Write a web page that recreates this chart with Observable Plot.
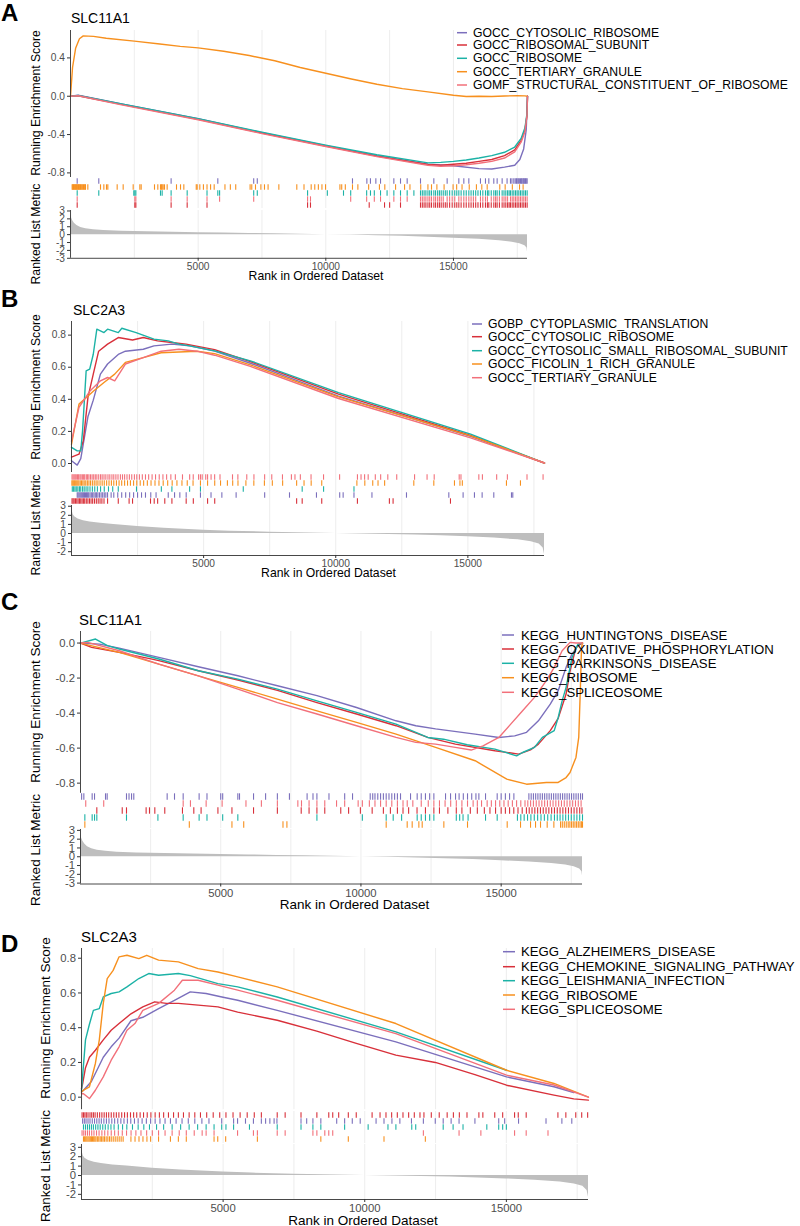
<!DOCTYPE html>
<html><head><meta charset="utf-8">
<script src="https://cdn.jsdelivr.net/npm/d3@7"></script>
<script src="https://cdn.jsdelivr.net/npm/@observablehq/plot@0.6"></script>
<style>
html,body{margin:0;padding:0;background:#fff;}
#root{position:relative;width:800px;height:1226px;overflow:hidden;font-family:"Liberation Sans",Arial,sans-serif;}
#root svg{overflow:visible;position:absolute;left:0;}
</style></head>
<body><div id="root"></div>
<script>
// ---------------- DATA ----------------
const N = 17900;
const gridRanks = [2500, 5000, 7500, 10000, 12500, 15000, 17500];
const xTickRanks = [5000, 10000, 15000];

// Panel A: SLC11A1, GO sets (legend order)
const A_sets = ["GOCC_CYTOSOLIC_RIBOSOME","GOCC_RIBOSOMAL_SUBUNIT","GOCC_RIBOSOME","GOCC_TERTIARY_GRANULE","GOMF_STRUCTURAL_CONSTITUENT_OF_RIBOSOME"];
const A_es_cytosolicRibosome = [[0,0],[300,0.01],[2000,-0.08],[5000,-0.235],[7500,-0.38],[10000,-0.515],[12000,-0.62],[14000,-0.71],[15000,-0.725],[16000,-0.755],[16500,-0.76],[17000,-0.74],[17400,-0.72],[17600,-0.66],[17750,-0.55],[17850,-0.35],[17900,0]];
const A_es_ribosomalSubunit = [[0,0],[300,0.005],[2000,-0.085],[5000,-0.24],[7500,-0.385],[10000,-0.52],[12000,-0.625],[14000,-0.712],[14500,-0.72],[15000,-0.71],[15500,-0.7],[16000,-0.68],[16500,-0.66],[17000,-0.62],[17400,-0.56],[17650,-0.46],[17800,-0.35],[17880,-0.2],[17900,0]];
const A_es_ribosome = [[0,0],[300,0.008],[2000,-0.08],[5000,-0.235],[7500,-0.375],[10000,-0.51],[12000,-0.61],[14000,-0.695],[14500,-0.69],[15000,-0.68],[15500,-0.665],[16000,-0.645],[16500,-0.62],[17000,-0.585],[17400,-0.53],[17650,-0.44],[17800,-0.33],[17880,-0.18],[17900,0]];
const A_es_tertiaryGranule = [[0,0],[80,0.3],[200,0.5],[350,0.6],[500,0.63],[900,0.625],[1400,0.605],[2500,0.575],[3500,0.545],[4300,0.52],[5000,0.505],[6000,0.47],[7000,0.425],[8000,0.37],[9000,0.3],[10000,0.24],[11000,0.18],[12000,0.125],[13000,0.08],[14000,0.045],[15000,0.01],[15500,-0.003],[16000,0],[16500,-0.002],[17000,0.003],[17500,0.005],[17800,0.004],[17900,0]];
const A_es_structural = [[0,0],[300,0.005],[2000,-0.09],[5000,-0.245],[7500,-0.39],[10000,-0.525],[12000,-0.63],[14000,-0.72],[14500,-0.73],[15000,-0.725],[15500,-0.715],[16000,-0.7],[16500,-0.68],[17000,-0.645],[17400,-0.58],[17650,-0.48],[17800,-0.37],[17880,-0.2],[17900,0]];
const A_hits_cytosolicRibosome = [262,1108,3941,5770,7176,7316,11045,11608,11748,11960,12143,12665,12926,13187,13709,14231,14753,15210,15406,15602,16058,16254,16385,16580,16711,16907,17100,17233,17290,17364,17420,17470,17494,17540,17580,17625,17660,17690,17730,17755,17790,17820,17850,17886];
const A_hits_ribosomalSubunit = [262,2520,2560,3941,4570,5347,9286,9400,11700,12300,12500,12926,13709,13780,13850,13920,14000,14070,14140,14231,14300,14380,14450,14520,14600,14680,14753,14850,14950,15050,15130,15210,15300,15406,15500,15602,15690,15780,15870,15960,16058,16150,16254,16330,16385,16480,16580,16650,16711,16800,16907,16980,17050,17120,17180,17233,17300,17364,17430,17494,17560,17625,17690,17755,17820,17886];
const A_hits_ribosome = [262,1108,2480,2520,2560,3525,3590,3941,4570,5347,5770,5840,7176,7316,9286,10060,10693,10975,11600,11750,11900,12143,12400,12665,12926,13187,13450,13709,13780,13850,13920,14000,14070,14140,14231,14300,14380,14450,14520,14600,14680,14753,14850,14950,15050,15130,15210,15300,15406,15500,15602,15690,15780,15870,15960,16058,16150,16254,16330,16385,16480,16580,16650,16711,16800,16907,16980,17050,17120,17180,17233,17300,17364,17430,17494,17560,17625,17690,17755,17820,17886];
const A_hits_tertiaryGranule = [65,90,115,140,165,190,215,240,265,290,315,340,365,390,420,450,480,510,540,570,587,679,1175,1306,1410,1462,1828,2063,2455,2716,2768,3290,3420,3525,3560,3590,3629,3682,3786,4152,4309,4439,4925,4961,5065,5206,5347,5487,5628,6050,6261,6472,7035,7100,7246,7457,7598,7739,8161,8864,9146,9427,9568,9708,9849,9990,10553,10623,10764,11045,11256,11678,12100,12311,12733,13085,13296,13718,14000,14140,14351,14633,14985,15125,15336,15618,15899,16110,16321,16814,17025,17306,17588,17728];
const A_hits_structural = [262,2520,2560,3941,4570,5347,5840,7176,9286,9400,10975,11600,11900,12143,12665,12926,13187,13709,13780,13850,13920,14000,14070,14140,14231,14300,14380,14450,14520,14600,14753,14850,14950,15050,15210,15300,15406,15500,15602,15690,15780,15870,16058,16150,16254,16330,16480,16580,16650,16711,16800,16907,16980,17050,17120,17233,17300,17364,17430,17494,17560,17625,17690,17755,17820,17886];

// Panel B: SLC2A3, GO sets
const B_sets = ["GOBP_CYTOPLASMIC_TRANSLATION","GOCC_CYTOSOLIC_RIBOSOME","GOCC_CYTOSOLIC_SMALL_RIBOSOMAL_SUBUNIT","GOCC_FICOLIN_1_RICH_GRANULE","GOCC_TERTIARY_GRANULE"];
const B_es_cytoplasmicTranslation = [[0,0.017],[216,-0.01],[351,0.03],[621,0.291],[824,0.395],[1094,0.557],[1365,0.62],[1770,0.68],[2040,0.7],[2716,0.712],[3121,0.733],[3796,0.744],[4472,0.733],[5417,0.7],[6769,0.625],[10105,0.42],[15104,0.17],[17900,0.003]];
const B_es_cytosolicRibosome = [[0,0.04],[284,0.058],[446,0.141],[621,0.411],[824,0.557],[1027,0.7],[1365,0.744],[1770,0.785],[2310,0.77],[2716,0.785],[3256,0.764],[3796,0.754],[4337,0.744],[5417,0.71],[6769,0.635],[10105,0.432],[15104,0.175],[17900,0.003]];
const B_es_cytosolicSmallSubunit = [[0,0.1],[216,0.079],[351,0.079],[419,0.204],[554,0.577],[689,0.588],[824,0.681],[959,0.837],[1229,0.816],[1365,0.837],[1770,0.816],[1905,0.843],[2445,0.816],[3121,0.775],[3661,0.764],[4067,0.744],[4472,0.733],[5417,0.702],[6769,0.64],[10105,0.442],[15104,0.183],[17900,0.003]];
const B_es_ficolin = [[0,0.12],[284,0.37],[554,0.41],[824,0.45],[1229,0.505],[1635,0.557],[2040,0.63],[2716,0.66],[3391,0.69],[4067,0.695],[4742,0.7],[5417,0.685],[6769,0.615],[10105,0.415],[15104,0.172],[17900,0.003]];
const B_es_tertiaryGranule = [[0,0.14],[284,0.35],[486,0.4],[689,0.45],[1094,0.515],[1365,0.536],[1635,0.515],[2040,0.62],[2716,0.66],[3391,0.7],[4067,0.712],[4742,0.7],[5417,0.675],[6769,0.605],[10105,0.405],[15104,0.16],[17900,0.003]];
const B_hits_cytoplasmicTranslation = [216,250,290,330,370,410,450,490,530,570,610,650,700,750,800,850,900,950,1000,1060,1120,1180,1240,1300,1365,1500,1600,1750,1900,2050,2200,2350,2500,2650,2800,3000,3200,3661,3900,4100,4340,4880,5280,5690,6230,7310,8250,9270,10150,10280,10690,11370,12677,14279,14820,15249,15540,15981,16650,16700];
const B_hits_cytosolicRibosome = [20,60,100,150,200,250,300,350,400,450,500,560,620,680,740,800,870,940,1010,1080,1150,1230,1365,1770,2180,2310,2990,3130,3260,3530,3800,4340,4610,5150,5420,8520,8730,9470,10820,12030,12170,14342];
const B_hits_cytosolicSmallSubunit = [30,80,130,180,240,300,350,420,480,550,620,700,790,880,980,1100,1240,1400,1560,1770,2460,3400,3800,4470,4880,6500,8730,9540,10690];
const B_hits_ficolin = [15,50,85,120,160,200,240,280,330,380,430,480,540,600,660,720,790,860,930,1000,1080,1160,1240,1330,1420,1510,1600,1700,1800,1900,2010,2120,2230,2350,2470,2600,2730,2870,3010,3160,3310,3470,3640,3810,3990,4180,4380,4600,4880,5150,5420,5640,5900,6100,6300,6600,6900,7300,7600,7990,8520,8800,9070,9470,10800,11100,11400,11600,11850,12954,13711,14493,14700,14790,16460,16990];
const B_hits_tertiaryGranule = [20,60,100,140,180,230,270,320,360,410,460,500,560,610,660,720,780,840,900,960,1030,1100,1160,1230,1300,1380,1450,1530,1600,1680,1760,1850,1930,2010,2100,2190,2280,2380,2470,2570,2680,2800,2920,3050,3180,3320,3460,3600,3760,3930,4200,4472,4607,4810,4880,4945,5080,5150,5282,5417,5620,6093,6296,6633,6904,7309,7579,7984,8322,8457,8660,9065,9538,10146,10821,10957,11092,11227,11497,11700,11970,12308,12983,13456,13726,14672,14739,15415,15550,16090,16495,17238,17846];

// Panel C: SLC11A1, KEGG sets
const C_sets = ["KEGG_HUNTINGTONS_DISEASE","KEGG_OXIDATIVE_PHOSPHORYLATION","KEGG_PARKINSONS_DISEASE","KEGG_RIBOSOME","KEGG_SPLICEOSOME"];
const C_es_huntingtons = [[0,0],[677,-0.006],[1382,-0.029],[2792,-0.082],[4202,-0.135],[5612,-0.187],[7022,-0.244],[8432,-0.3],[9842,-0.368],[11252,-0.444],[11957,-0.472],[12662,-0.49],[14072,-0.52],[14918,-0.539],[15482,-0.53],[15905,-0.51],[16328,-0.444],[16751,-0.349],[17033,-0.272],[17315,-0.139],[17526,-0.063],[17738,-0.015],[17900,0]];
const C_es_oxidative = [[0,0],[395,-0.025],[1382,-0.053],[2510,-0.09],[2792,-0.1],[4202,-0.158],[5612,-0.211],[7022,-0.27],[8432,-0.34],[9842,-0.405],[11252,-0.472],[12380,-0.539],[13367,-0.577],[14777,-0.615],[15623,-0.634],[16046,-0.61],[16328,-0.577],[16751,-0.5],[17033,-0.43],[17315,-0.291],[17456,-0.16],[17667,-0.025],[17808,-0.006],[17900,0]];
const C_es_parkinsons = [[0,0],[536,0.023],[959,-0.015],[1382,-0.034],[2792,-0.091],[4202,-0.158],[5612,-0.206],[7022,-0.263],[8432,-0.33],[9842,-0.396],[11252,-0.463],[11957,-0.51],[12380,-0.539],[12944,-0.549],[13790,-0.581],[14777,-0.606],[15552,-0.644],[15764,-0.625],[16187,-0.596],[16469,-0.539],[16892,-0.5],[17033,-0.425],[17174,-0.33],[17315,-0.253],[17526,-0.082],[17738,-0.006],[17900,0]];
const C_es_ribosome = [[0,0],[1382,-0.053],[2792,-0.12],[4202,-0.187],[5612,-0.253],[7022,-0.32],[8432,-0.387],[9842,-0.453],[11252,-0.52],[12662,-0.596],[14072,-0.672],[15200,-0.777],[15905,-0.806],[16610,-0.796],[17033,-0.796],[17315,-0.768],[17456,-0.739],[17667,-0.653],[17766,-0.539],[17822,-0.272],[17865,-0.025],[17900,0]];
const C_es_spliceosome = [[0,0],[254,0.004],[1382,-0.044],[2792,-0.12],[4202,-0.187],[5612,-0.263],[7022,-0.34],[8432,-0.405],[9842,-0.472],[11252,-0.539],[11957,-0.567],[12662,-0.577],[13367,-0.596],[13931,-0.611],[14354,-0.587],[14918,-0.539],[15341,-0.463],[15764,-0.387],[16187,-0.31],[16610,-0.215],[16892,-0.139],[17174,-0.044],[17456,0.004],[17667,0],[17900,0]];
const C_hits_huntingtons = [40,119,416,500,892,951,1640,1730,1820,1900,3090,3352,3661,4230,4510,5000,5070,5610,5670,6170,6600,7020,7450,8080,8290,8430,8860,9420,9700,10330,10420,10500,10600,10700,10800,10900,11000,11100,11200,11300,11411,11768,12005,12150,12300,12450,12600,13016,13195,13373,13500,13650,13800,13950,14100,14205,14442,14858,15000,15150,15300,15453,15988,16070,16150,16230,16310,16390,16470,16550,16630,16710,16790,16870,16950,17030,17110,17190,17270,17350,17430,17510,17590,17670,17750,17830,17900];
const C_hits_oxidative = [582,1488,1640,2340,2460,2650,3005,3636,4040,4300,4900,5400,6170,7020,7870,8150,8430,8710,9280,9560,9980,10400,10800,11050,11300,11500,11700,12000,12300,12600,12800,13100,13400,13600,13900,14150,14400,14600,14800,15000,15150,15300,15450,15600,15750,15900,16000,16100,16200,16300,16400,16500,16600,16700,16800,16900,17000,17100,17200,17300,17400,17500,17600,17700,17800,17880];
const C_hits_parkinsons = [155,416,500,582,1640,2760,3661,4230,4510,5070,5610,8430,10050,10900,11150,11450,12005,12150,12300,12450,12600,13400,13520,13640,13820,14442,14858,15580,15700,15820,15940,16060,16180,16300,16420,16540,16660,16780,16900,17000,17100,17200,17300,17400,17500,17600,17700,17800,17900];
const C_hits_ribosome = [155,3880,5400,5820,7220,7360,10900,11649,11827,12065,12184,12956,13800,15215,15690,16047,16225,16403,16641,16879,17117,17180,17250,17320,17390,17450,17510,17570,17630,17690,17750,17810,17860,17900];
const C_hits_spliceosome = [187,828,3661,3920,4480,5050,5900,6450,7020,7750,7880,8150,8430,8710,9130,9420,9900,10050,10300,10500,10700,10900,11100,11300,11500,11650,11850,12150,12400,12600,12800,13000,13200,13400,13600,13800,14000,14150,14300,14500,14650,14800,14950,15100,15250,15400,15550,15700,15850,15950,16050,16150,16250,16350,16450,16550,16650,16750,16850,16950,17050,17150,17250,17350,17450,17550,17650,17750,17850];

// Panel D: SLC2A3, KEGG sets
const D_sets = ["KEGG_ALZHEIMERS_DISEASE","KEGG_CHEMOKINE_SIGNALING_PATHWAY","KEGG_LEISHMANIA_INFECTION","KEGG_RIBOSOME","KEGG_SPLICEOSOME"];
const D_es_alzheimers = [[0,0.03],[70,0.04],[349,0.09],[768,0.23],[1047,0.29],[1326,0.34],[1745,0.44],[2164,0.46],[2722,0.51],[3281,0.558],[3839,0.606],[4397,0.597],[4956,0.577],[5514,0.558],[6910,0.5],[11098,0.318],[15007,0.117],[16682,0.06],[17380,0.027]];
const D_es_chemokine = [[0,0.05],[42,0.08],[140,0.17],[279,0.23],[489,0.27],[768,0.33],[1047,0.385],[1326,0.424],[1745,0.48],[2164,0.52],[2583,0.549],[3001,0.54],[3420,0.54],[4118,0.53],[4816,0.52],[5514,0.49],[6910,0.443],[8306,0.38],[9702,0.31],[11098,0.242],[12494,0.2],[13890,0.13],[15007,0.069],[16682,0.012],[17380,-0.01],[17897,-0.017]];
const D_es_leishmania = [[0,0.04],[28,0.1],[140,0.33],[279,0.42],[419,0.5],[628,0.51],[768,0.577],[1047,0.597],[1326,0.606],[1605,0.635],[2024,0.683],[2373,0.712],[2722,0.702],[3420,0.712],[3839,0.7],[4816,0.654],[5514,0.635],[6910,0.577],[11098,0.376],[15007,0.155]];
const D_es_ribosome = [[0,0.03],[70,0.04],[279,0.059],[489,0.194],[628,0.33],[768,0.54],[907,0.683],[1117,0.73],[1326,0.808],[1605,0.817],[2024,0.798],[2303,0.817],[2722,0.789],[3420,0.779],[4118,0.74],[4816,0.721],[5514,0.693],[6910,0.635],[11098,0.424],[15007,0.155],[16682,0.079],[17897,0]];
const D_es_spliceosome = [[0,0.02],[70,0.02],[279,-0.008],[489,0.04],[768,0.117],[1047,0.213],[1326,0.29],[1605,0.385],[1885,0.424],[2164,0.5],[2722,0.54],[3281,0.616],[3560,0.673],[4118,0.673],[4816,0.645],[5514,0.616],[6910,0.558],[11098,0.366],[15007,0.127],[16682,0.07],[17897,0]];
const D_hits_alzheimers = [40,100,160,230,300,380,460,540,620,700,790,880,970,1070,1170,1280,1390,1500,1620,1740,1870,2000,2140,2290,2440,2600,2770,2950,3140,3340,3550,3770,4000,4250,4500,4950,5370,5510,5790,6070,6350,6500,6650,6800,6900,7750,7950,8170,8450,9010,9290,9560,9840,10400,10680,10960,11240,11650,12070,12490,12770,13050,13330,13890,14730,14940,15430,16400,16960,17310];
const D_hits_chemokine = [20,70,120,170,230,300,360,420,480,560,640,720,800,880,960,1050,1140,1230,1320,1420,1520,1620,1730,1840,1950,2070,2190,2320,2450,2600,2750,2900,3070,3250,3420,3600,3800,4000,4200,4420,4650,4880,5100,5350,5600,5850,6100,6350,6910,7190,7750,8310,8730,8870,9080,9420,9700,10260,10540,10750,10950,11150,11350,11550,11750,11950,12090,12350,12630,12910,13130,13340,13610,14030,14170,14590,14870,15290,15420,15700,16820,17100,17450,17660,17870];
const D_hits_leishmania = [70,140,210,280,350,420,500,580,660,750,840,940,1040,1150,1300,1450,1600,1800,2000,2200,2400,2650,2900,3200,3500,3800,4100,4400,4680,4950,5100,5370,5930,6910,7750,8170,8450,9290,10120,10820,11100,11660,11800,12770,13120,13470,14310,14730,14870,15000];
const D_hits_ribosome = [70,110,150,190,230,270,310,350,390,430,470,510,560,610,660,710,760,810,870,930,990,1050,1120,1190,1260,1330,1400,1470,1745,1890,2030,2170,2310,2440,2720,3140,3420,3700,4680,4810,5090,6210,8450,9420,10680,12140];
const D_hits_spliceosome = [20,80,140,210,280,360,440,530,620,720,820,930,1050,1170,1300,1440,1590,1750,1920,2100,2300,2500,2720,2950,3200,3450,3700,3980,4260,4400,4680,5510,6070,6210,6910,7190,8170,8310,8590,8730,8870,12070,13330,14100,15290,15700,16470];

// Ranked list metric (one per gene)
const metric_SLC11A1 = [[1,2.6],[30,2.2],[80,1.8],[150,1.45],[250,1.15],[400,0.9],[600,0.75],[900,0.62],[1300,0.52],[2000,0.43],[3000,0.36],[4000,0.3],[5000,0.25],[6000,0.2],[7000,0.15],[8000,0.1],[9000,0.05],[10000,0],[11000,-0.06],[12000,-0.13],[13000,-0.22],[14000,-0.32],[15000,-0.45],[16000,-0.6],[16800,-0.78],[17300,-0.95],[17600,-1.15],[17800,-1.4],[17880,-1.7],[17900,-2.2]];
const metric_SLC2A3 = [[1,3.0],[20,2.6],[60,2.1],[120,1.85],[250,1.6],[450,1.4],[700,1.27],[1100,1.13],[1600,1.0],[2500,0.78],[3500,0.58],[5000,0.37],[6000,0.26],[7500,0.14],[9000,0.05],[10000,0],[11000,-0.05],[12000,-0.1],[13000,-0.17],[14000,-0.25],[15000,-0.36],[16000,-0.5],[16900,-0.7],[17400,-0.9],[17700,-1.15],[17850,-1.6],[17900,-2.3]];

// ---------------- STYLE / LAYOUT ----------------
const COLORS = ["#7B6FBC","#D8303A","#1CB2A6","#F7901E","#F2707A"]; // legend order
const FONT = '"Liberation Sans", Arial, sans-serif';

const panels = [
  {letter:"A", gene:"SLC11A1", sets:A_sets,
   es:[A_es_cytosolicRibosome,A_es_ribosomalSubunit,A_es_ribosome,A_es_tertiaryGranule,A_es_structural],
   hits:[A_hits_cytosolicRibosome,A_hits_ribosomalSubunit,A_hits_ribosome,A_hits_tertiaryGranule,A_hits_structural],
   rowOrder:[0,3,2,4,1], metric:metric_SLC11A1,
   x:[70,527], esBox:[30,177], esDom:[-0.848,0.686], esTicks:[-0.8,-0.4,0,0.4],
   rugBox:[177,208], metBox:[209.5,257.3], metDom:[-3,3.06], metTicks:[-3,-2,-1,0,1,2,3],
   tick:10.2, axt:12.2, ttl:14, leg:12.2,
   letterY:21, titlePos:[71,18.3], ylabX:36, esLabY:103, metLabY:234, xlab:[316,276],
   legLine:[457,467], legText:473, legRows:[32.7,45,58.3,71.7,85]},
  {letter:"B", gene:"SLC2A3", sets:B_sets,
   es:[B_es_cytoplasmicTranslation,B_es_cytosolicRibosome,B_es_cytosolicSmallSubunit,B_es_ficolin,B_es_tertiaryGranule],
   hits:[B_hits_cytoplasmicTranslation,B_hits_cytosolicRibosome,B_hits_cytosolicSmallSubunit,B_hits_ficolin,B_hits_tertiaryGranule],
   rowOrder:[4,3,2,0,1], metric:metric_SLC2A3,
   x:[71,544], esBox:[320.7,471.7], esDom:[-0.056,0.885], esTicks:[0,0.2,0.4,0.6,0.8],
   rugBox:[472,505], metBox:[505,555], metDom:[-2.42,3.08], metTicks:[-2,-1,0,1,2,3],
   tick:10.2, axt:12.2, ttl:14, leg:12.2,
   letterY:307, titlePos:[73,310], ylabX:36, esLabY:387, metLabY:525, xlab:[328.5,572.7],
   legLine:[472,482], legText:488, legRows:[324,336.7,350.7,364,377.7]},
  {letter:"C", gene:"SLC11A1", sets:C_sets,
   es:[C_es_huntingtons,C_es_oxidative,C_es_parkinsons,C_es_ribosome,C_es_spliceosome],
   hits:[C_hits_huntingtons,C_hits_oxidative,C_hits_parkinsons,C_hits_ribosome,C_hits_spliceosome],
   rowOrder:[0,4,1,2,3], metric:metric_SLC11A1,
   x:[80,582], esBox:[630.7,792.5], esDom:[-0.858,0.066], esTicks:[-0.8,-0.6,-0.4,-0.2,0],
   rugBox:[793,828], metBox:[828.5,883], metDom:[-3.1,3.1], metTicks:[-3,-2,-1,0,1,2,3],
   tick:11.3, axt:13.5, ttl:15, leg:13.2,
   letterY:610, titlePos:[79,619.3], ylabX:35.6, esLabY:702, metLabY:850, xlab:[354.5,904],
   legLine:[502,514], legText:521, legRows:[635,649,663.3,677.7,692.3]},
  {letter:"D", gene:"SLC2A3", sets:D_sets,
   es:[D_es_alzheimers,D_es_chemokine,D_es_leishmania,D_es_ribosome,D_es_spliceosome],
   hits:[D_hits_alzheimers,D_hits_chemokine,D_hits_leishmania,D_hits_ribosome,D_hits_spliceosome],
   rowOrder:[1,0,2,4,3], metric:metric_SLC2A3,
   x:[81,588], esBox:[948.3,1109.5], esDom:[-0.072,0.856], esTicks:[0,0.2,0.4,0.6,0.8],
   rugBox:[1111,1143], metBox:[1144,1199], metDom:[-2.55,3.3], metTicks:[-2,-1,0,1,2,3],
   tick:11.3, axt:13.5, ttl:15, leg:13.2,
   letterY:952, titlePos:[81,936], ylabX:45.5, esLabY:1018, metLabY:1166, xlab:[363,1220],
   legLine:[503,515], legText:521, legRows:[951.7,966.7,980.7,995,1009.3]}
];

// ---------------- RENDER ----------------
const root = document.getElementById("root");
const fmt1 = d => d === 0 ? "0.0" : d.toFixed(1);
const fmt0 = d => String(d);

function place(svg, top) { svg.style.top = top + "px"; root.appendChild(svg); }

for (const p of panels) {
  const color = {domain: p.sets, range: COLORS};
  const base = (box) => ({
    width: 800, height: box[1] - box[0],
    marginLeft: p.x[0], marginRight: 800 - p.x[1], marginTop: 0, marginBottom: 0,
    style: {overflow: "visible", fontFamily: FONT, background: "transparent"},
    color
  });
  const grid = Plot.ruleX(gridRanks, {stroke: "#EBEBEB", strokeWidth: 0.9});

  // Running enrichment score
  const esRows = p.es.flatMap((arr, i) => arr.map(([rank, es]) => ({set: p.sets[i], rank, es})));
  place(Plot.plot({
    ...base(p.esBox),
    x: {domain: [0, N], axis: null},
    y: {domain: p.esDom, axis: null},
    marks: [
      grid,
      Plot.line(esRows, {x: "rank", y: "es", z: "set", stroke: "set", strokeWidth: 1.4}),
      Plot.ruleX([0], {stroke: "#333", strokeWidth: 0.9}),
      Plot.axisY({ticks: p.esTicks, tickFormat: fmt1, tickSize: 3, tickPadding: 2.5, label: null,
                  stroke: "#333", fill: "#4D4D4D", fontSize: p.tick})
    ]
  }), p.esBox[0]);

  // Gene hit rug
  const order = p.rowOrder.map(i => p.sets[i]);
  const hitRows = p.hits.flatMap((arr, i) => arr.map(rank => ({set: p.sets[i], rank})));
  place(Plot.plot({
    ...base(p.rugBox),
    x: {domain: [0, N], axis: null},
    y: {domain: order, axis: null, padding: 0},
    marks: [
      grid,
      Plot.tickX(hitRows, {x: "rank", y: "set", stroke: "set", strokeWidth: 1.1, insetTop: 0.3, insetBottom: 0.3})
    ]
  }), p.rugBox[0]);

  // Ranked list metric
  const metRows = p.metric.map(([rank, v]) => ({rank, v}));
  place(Plot.plot({
    ...base(p.metBox),
    x: {domain: [0, N], axis: null},
    y: {domain: p.metDom, axis: null},
    marks: [
      grid,
      Plot.areaY(metRows, {x: "rank", y1: 0, y2: "v", fill: "#BEBEBE"}),
      Plot.ruleX([0], {stroke: "#333", strokeWidth: 0.9}),
      Plot.ruleY([p.metDom[0]], {stroke: "#333", strokeWidth: 0.9}),
      Plot.axisY({ticks: p.metTicks, tickFormat: fmt0, tickSize: 3, tickPadding: 2.5, label: null,
                  stroke: "#333", fill: "#4D4D4D", fontSize: p.tick}),
      Plot.axisX({ticks: xTickRanks, tickFormat: fmt0, tickSize: 3, tickPadding: 1.5, label: null, anchor: "bottom",
                  stroke: "#333", fill: "#4D4D4D", fontSize: p.tick})
    ]
  }), p.metBox[0]);
}

// Text overlay: panel letters, titles, axis titles, legends
const ov = d3.create("svg").attr("width", 800).attr("height", 1226)
  .style("top", "0px").style("pointer-events", "none").style("font-family", FONT);
for (const p of panels) {
  ov.append("text").attr("x", 1).attr("y", p.letterY).attr("font-size", 24).attr("font-weight", "bold").text(p.letter);
  ov.append("text").attr("x", p.titlePos[0]).attr("y", p.titlePos[1]).attr("dominant-baseline", "central")
    .attr("font-size", p.ttl).text(p.gene);
  ov.append("text").attr("transform", `translate(${p.ylabX},${p.esLabY}) rotate(-90)`)
    .attr("text-anchor", "middle").attr("dominant-baseline", "central").attr("font-size", p.axt).text("Running Enrichment Score");
  ov.append("text").attr("transform", `translate(${p.ylabX},${p.metLabY}) rotate(-90)`)
    .attr("text-anchor", "middle").attr("dominant-baseline", "central").attr("font-size", p.axt).text("Ranked List Metric");
  ov.append("text").attr("x", p.xlab[0]).attr("y", p.xlab[1]).attr("text-anchor", "middle")
    .attr("dominant-baseline", "central").attr("font-size", p.axt).text("Rank in Ordered Dataset");
  p.sets.forEach((s, i) => {
    const y = p.legRows[i];
    ov.append("line").attr("x1", p.legLine[0]).attr("x2", p.legLine[1]).attr("y1", y).attr("y2", y)
      .attr("stroke", COLORS[i]).attr("stroke-width", 1.5);
    ov.append("text").attr("x", p.legText).attr("y", y).attr("dominant-baseline", "central")
      .attr("font-size", p.leg).attr("fill", "#000").text(s);
  });
}
root.appendChild(ov.node());
</script>
</body></html>
